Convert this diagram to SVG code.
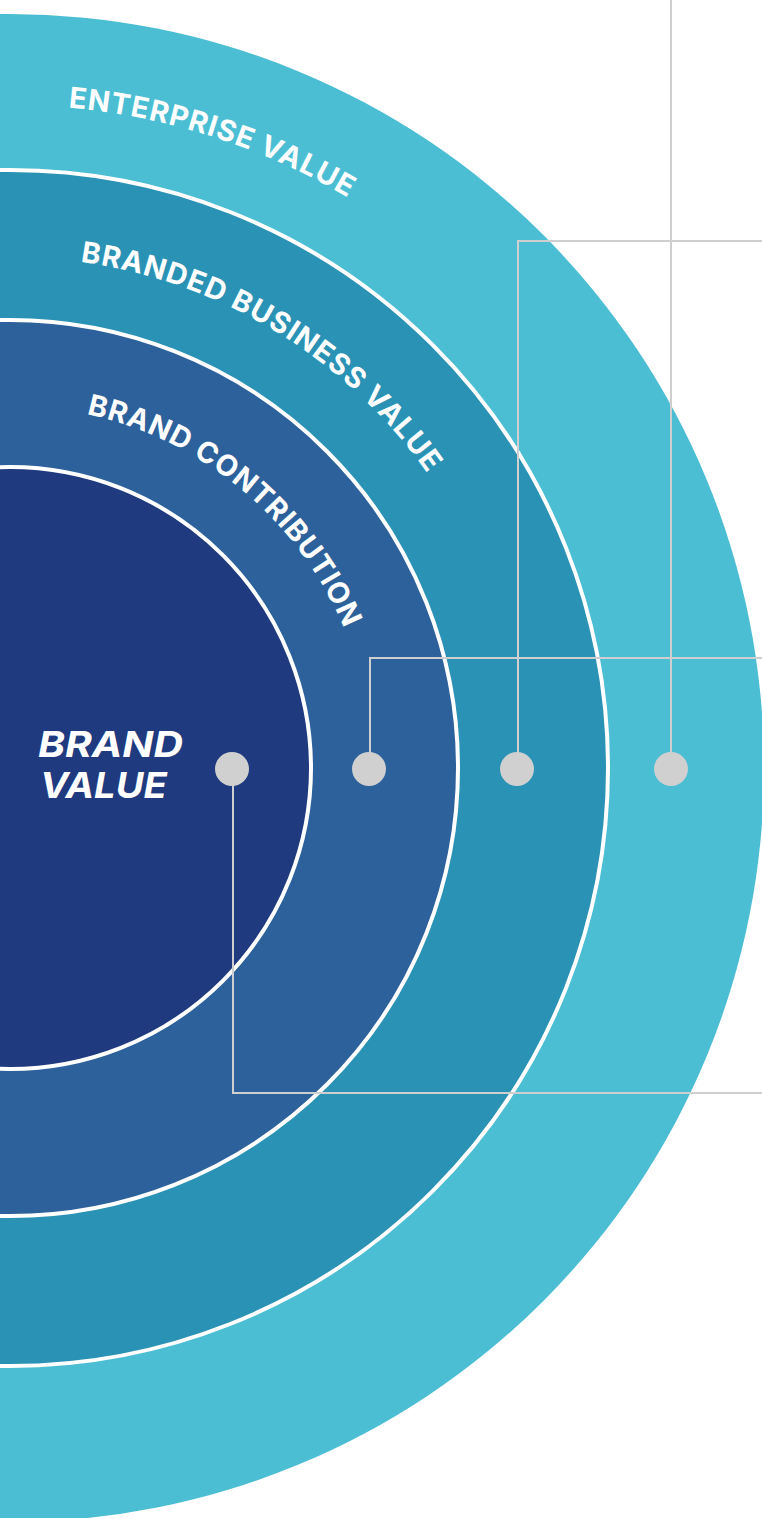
<svg xmlns="http://www.w3.org/2000/svg" width="762" height="1518" viewBox="0 0 762 1518">
  <style>
    .ring { stroke: #FFFFFF; stroke-width: 4; }
    .arc-label { font-family: Inter, "Open Sans", "Liberation Sans", sans-serif; font-weight: 700; font-size: 29px; fill: #FFFFFF; }
    .center-label { font-family: Inter, "Open Sans", "Liberation Sans", sans-serif; font-weight: 700; font-style: italic; font-size: 36px; fill: #FFFFFF; }
    .conn { fill: none; stroke: #CFCFCF; stroke-width: 2; }
    .dot { fill: #D0D0D0; }
  </style>
  <defs>
    <path id="arcEnterprise" d="M68.25 107.6 A663 663 0 0 1 436.2 260.1"/>
    <path id="arcBranded" d="M80.2 261.8 A511 511 0 0 1 473.1 552.1"/>
    <path id="arcContribution" d="M86.5 414.2 A362 362 0 0 1 366.5 705.1"/>
  </defs>
  <rect width="762" height="1518" fill="#FFFFFF"/>

  <g id="enterprise-value">
    <circle cx="10" cy="768" r="754" fill="#4BBED3"/>
    <text class="arc-label"><textPath href="#arcEnterprise" textLength="296" lengthAdjust="spacing">ENTERPRISE VALUE</textPath></text>
  </g>
  <g id="branded-business-value">
    <circle class="ring" cx="10" cy="768" r="598" fill="#2A92B5"/>
    <text class="arc-label"><textPath href="#arcBranded" textLength="418" lengthAdjust="spacing">BRANDED BUSINESS VALUE</textPath></text>
  </g>
  <g id="brand-contribution">
    <circle class="ring" cx="10" cy="768" r="448" fill="#2C619B"/>
    <text class="arc-label"><textPath href="#arcContribution" textLength="348" lengthAdjust="spacing">BRAND CONTRIBUTION</textPath></text>
  </g>
  <g id="brand-value">
    <circle class="ring" cx="10" cy="768" r="301" fill="#1F3A7E"/>
    <text class="center-label" x="38" y="757" textLength="145" lengthAdjust="spacingAndGlyphs">BRAND</text>
    <text class="center-label" x="40" y="798" textLength="127" lengthAdjust="spacingAndGlyphs">VALUE</text>
  </g>

  <g id="connectors">
    <path class="conn" d="M671 768 V0"/>
    <path class="conn" d="M518 768 V241 H762"/>
    <path class="conn" d="M370 768 V658 H762"/>
    <path class="conn" d="M233 768 V1093 H762"/>
  </g>

  <g id="dots">
    <circle class="dot" cx="232" cy="769" r="17"/>
    <circle class="dot" cx="369" cy="769" r="17"/>
    <circle class="dot" cx="517" cy="769" r="17"/>
    <circle class="dot" cx="671" cy="769" r="17"/>
  </g>
</svg>
